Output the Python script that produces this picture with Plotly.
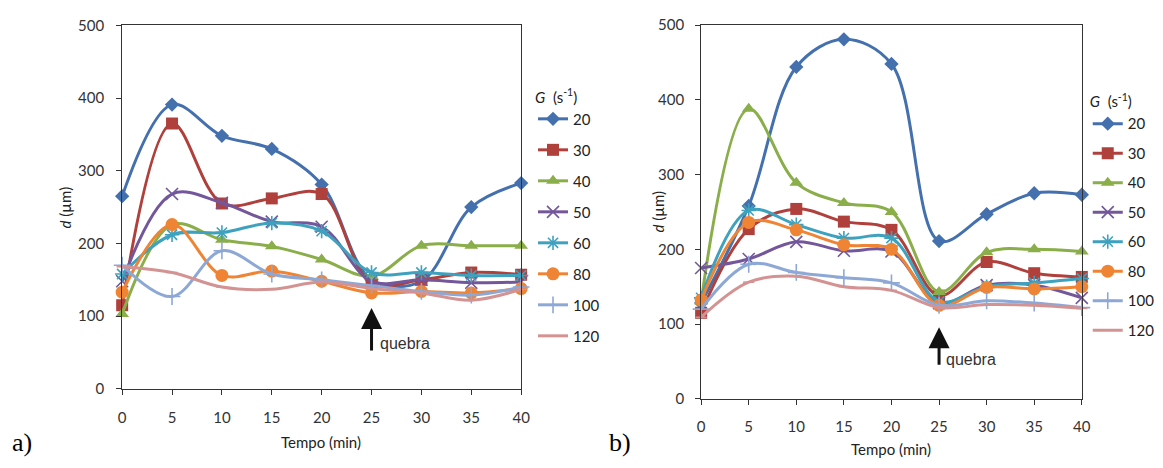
import plotly.graph_objects as go

# ---------------- data ----------------
tempo = [0, 5, 10, 15, 20, 25, 30, 35, 40]
g_labels = ["20", "30", "40", "50", "60", "80", "100", "120"]

# chart a)
a_20 = [265, 391, 348, 330, 281, 150, 148, 250, 283]
a_30 = [115, 365, 255, 262, 268, 145, 150, 160, 157]
a_40 = [103, 226, 205, 196, 178, 155, 197, 197, 197]
a_50 = [148, 268, 256, 230, 223, 148, 150, 146, 147]
a_60 = [158, 212, 215, 228, 217, 160, 160, 156, 156]
a_80 = [133, 226, 156, 162, 148, 132, 134, 132, 138]
a_100 = [170, 127, 190, 158, 150, 142, 134, 129, 140]
a_120 = [168, 160, 140, 137, 147, 138, 132, 122, 137]

# chart b)
b_20 = [128, 258, 444, 481, 448, 211, 247, 275, 273]
b_30 = [115, 227, 254, 237, 226, 138, 183, 168, 163]
b_40 = [130, 388, 289, 262, 250, 143, 196, 200, 197]
b_50 = [175, 187, 210, 198, 197, 128, 152, 152, 135]
b_60 = [135, 252, 233, 215, 215, 130, 150, 155, 161]
b_80 = [132, 236, 226, 206, 200, 125, 149, 147, 150]
b_100 = [120, 180, 169, 162, 155, 125, 131, 128, 122]
b_120 = [109, 156, 164, 150, 145, 122, 126, 125, 121]

series_a = [a_20, a_30, a_40, a_50, a_60, a_80, a_100, a_120]
series_b = [b_20, b_30, b_40, b_50, b_60, b_80, b_100, b_120]

colors = ["#4470AE", "#B0403C", "#8AAE4A", "#73579A", "#3EA1BE", "#EE8434", "#8EA8D6", "#D49393"]
symbols = ["diamond", "square", "triangle-up", "x-thin-open", "asterisk-open", "circle", "cross-thin-open", "line-ew-open"]
msizes = [11, 12, 12, 12, 12, 13, 12, 8]

FONT = "Lato, Open Sans, sans-serif"
TICKFONT = dict(family=FONT, size=15, color="#333333")

fig = go.Figure()

for sers, xa, ya, lg in [(series_a, "x", "y", "legend"), (series_b, "x2", "y2", "legend2")]:
    for i, vals in enumerate(sers):
        open_sym = symbols[i].endswith("open")
        fig.add_trace(go.Scatter(
            x=tempo, y=vals, xaxis=xa, yaxis=ya,
            mode="lines+markers",
            name=g_labels[i],
            legend=lg,
            legendgroup=f"{lg}_{i}",
            line=dict(color=colors[i], width=3, shape="spline", smoothing=1.0),
            marker=dict(symbol=symbols[i], size=msizes[i], color=colors[i],
                        line=dict(color=colors[i], width=1.6 if open_sym else 0)),
            cliponaxis=False,
        ))

axis_common = dict(showgrid=False, zeroline=False, showline=True, linecolor="#333333",
                   linewidth=1, mirror=True, ticks="outside", ticklen=5, tickcolor="#333333",
                   tickfont=TICKFONT)

legend_common = dict(xanchor="left", yanchor="top",
                     font=dict(family=FONT, size=15, color="#222222"),
                     title=dict(text="<i>G</i>  (s<sup>-1</sup>)", font=dict(family=FONT, size=15, color="#222222")),
                     itemwidth=30, bgcolor="rgba(0,0,0,0)")

fig.update_layout(
    width=1163, height=468,
    margin=dict(l=0, r=0, t=0, b=0),
    paper_bgcolor="white", plot_bgcolor="white",
    xaxis=dict(domain=[119.5 / 1163, 523 / 1163], range=[0, 40], tickvals=tempo,
               ticklabelstandoff=10, anchor="y", **axis_common),
    yaxis=dict(domain=[1 - 394 / 468, 1 - 16 / 468], range=[0, 500], dtick=100,
               ticklabelstandoff=9, anchor="x", **axis_common),
    xaxis2=dict(domain=[705 / 1163, 1090 / 1163], range=[0, 40], tickvals=tempo,
                ticklabelstandoff=9, anchor="y2", **axis_common),
    yaxis2=dict(domain=[1 - 404.3 / 468, 1 - 15.7 / 468], range=[0, 500], dtick=100,
                ticklabelstandoff=8, anchor="x2", **axis_common),
    legend=dict(x=535 / 1163, y=1 - 76 / 468, tracegroupgap=8.5, **legend_common),
    legend2=dict(x=1096 / 1163, y=1 - 81 / 468, tracegroupgap=7, **legend_common),
    showlegend=True,
)

annots = [
    dict(text="<i>d</i> (µm)", x=62 / 1163, y=1 - 205 / 468, textangle=-90),
    dict(text="<i>d</i> (µm)", x=661 / 1163, y=1 - 210 / 468, textangle=-90),
    dict(text="Tempo (min)", x=321 / 1163, y=1 - 449 / 468),
    dict(text="Tempo (min)", x=897 / 1163, y=1 - 457 / 468),
]
annotations = []
for a in annots:
    annotations.append(dict(xref="paper", yref="paper", showarrow=False,
                            xanchor="center", yanchor="middle",
                            font=dict(family=FONT, size=15, color="#222222"), **a))
annotations.append(dict(xref="paper", yref="paper", x=6 / 1163, y=1 - 450 / 468, text="a)", showarrow=False,
                        xanchor="left", yanchor="middle",
                        font=dict(family="Liberation Serif, Times New Roman, serif", size=26, color="black")))
annotations.append(dict(xref="paper", yref="paper", x=610 / 1163, y=1 - 450 / 468, text="b)", showarrow=False,
                        xanchor="left", yanchor="middle",
                        font=dict(family="Liberation Serif, Times New Roman, serif", size=26, color="black")))
annotations.append(dict(xref="x", yref="paper", x=25, y=1 - 310 / 468, ax=0, ay=44, text="",
                        showarrow=True, arrowhead=2, arrowsize=1.4, arrowwidth=3, arrowcolor="#111111"))
annotations.append(dict(xref="paper", yref="paper", x=378 / 1163, y=1 - 347 / 468, text="quebra", showarrow=False,
                        xanchor="left", yanchor="middle",
                        font=dict(family="Liberation Sans, Arial, sans-serif", size=16, color="#333333")))
annotations.append(dict(xref="x2", yref="paper", x=25, y=1 - 330 / 468, ax=0, ay=39, text="",
                        showarrow=True, arrowhead=2, arrowsize=1.4, arrowwidth=3, arrowcolor="#111111"))
annotations.append(dict(xref="paper", yref="paper", x=951 / 1163, y=1 - 363 / 468, text="quebra", showarrow=False,
                        xanchor="left", yanchor="middle",
                        font=dict(family="Liberation Sans, Arial, sans-serif", size=16, color="#333333")))

fig.update_layout(annotations=annotations)

fig.write_html("out.html")
